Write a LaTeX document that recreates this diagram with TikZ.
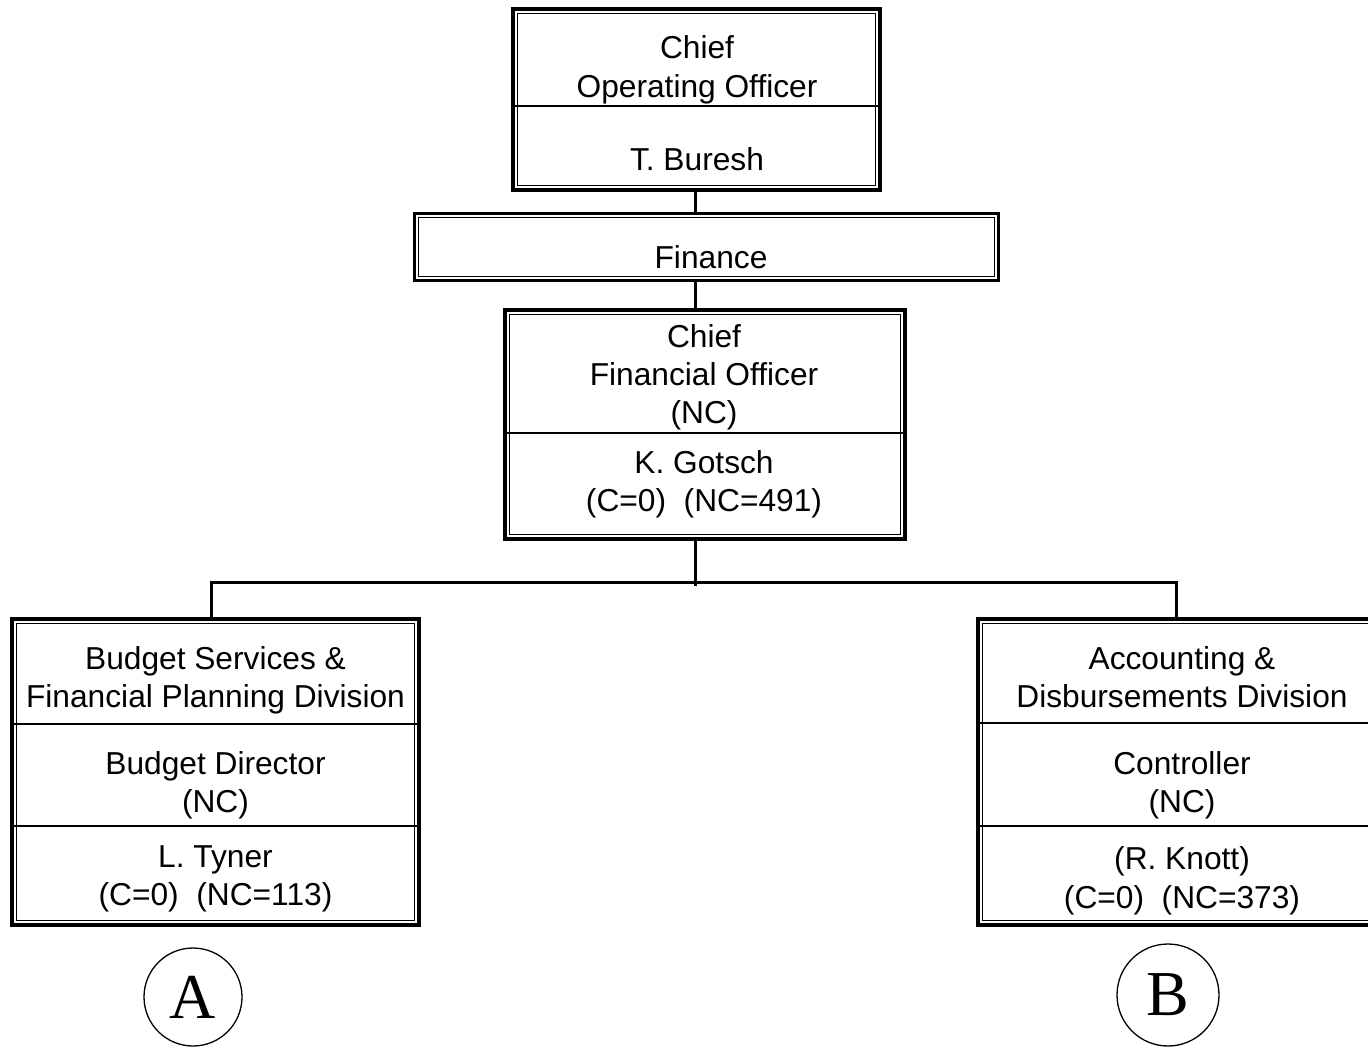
\documentclass[tikz,border=0pt]{standalone}
\usepackage{fontspec}
\setmainfont{Liberation Sans}
\newfontfamily\serifletter{Liberation Serif}
\begin{document}
\begin{tikzpicture}[x=1pt,y=-1pt,
  box/.style={draw,line width=4.5pt,inner sep=0pt,outer sep=0pt},
  finbox/.style={draw,line width=3pt,inner sep=0pt,outer sep=0pt},
  lbl/.style={anchor=base,inner sep=0pt,font=\fontsize{31.7}{38}\selectfont},
  conn/.style={line width=3pt},
  divider/.style={line width=1.8pt},
  innerline/.style={line width=1.2pt},
  letter/.style={circle,draw,line width=1.3pt,inner sep=0pt,font=\serifletter\fontsize{64}{64}\selectfont}]
\useasboundingbox (0,0) rectangle (1368,1047);

% boxes
\node[box,minimum width=367pt,minimum height=181pt] (coo) at (696.5,99.5) {};
\node[finbox,minimum width=584pt,minimum height=67pt] (fin) at (706.5,247) {};
\node[box,minimum width=400pt,minimum height=229pt] (cfo) at (705,424.5) {};
\node[box,minimum width=407pt,minimum height=306pt] (bud) at (215.5,772) {};
\node[box,minimum width=408pt,minimum height=306pt] (acc) at (1182,772) {};

% inner thin borders
\foreach \n in {coo,cfo,bud,acc}{
  \draw[innerline] ([shift={(4.8,4.8)}]\n.north west) rectangle ([shift={(-4.8,-4.8)}]\n.south east);
}
\draw[innerline] ([shift={(4,4)}]fin.north west) rectangle ([shift={(-4,-4)}]fin.south east);

% dividers
\draw[divider] (coo.west |- 0,106) -- (coo.east |- 0,106);
\draw[divider] (cfo.west |- 0,433) -- (cfo.east |- 0,433);
\draw[divider] (bud.west |- 0,724) -- (bud.east |- 0,724);
\draw[divider] (bud.west |- 0,826) -- (bud.east |- 0,826);
\draw[divider] (acc.west |- 0,723) -- (acc.east |- 0,723);
\draw[divider] (acc.west |- 0,826) -- (acc.east |- 0,826);

% connectors
\coordinate (trunk) at (695,0);
\coordinate (bus) at (695,582.5);
\coordinate (busend) at (695,586);
\coordinate (ltap) at (211,0);
\coordinate (rtap) at (1176,0);
\draw[conn] (coo.south -| trunk) -- (fin.north -| trunk);
\draw[conn] (fin.south -| trunk) -- (cfo.north -| trunk);
\draw[conn] (cfo.south -| trunk) -- (busend);
\draw[conn] (bud.north -| ltap) |- (bus) -| (acc.north -| rtap);

% texts
\node[lbl] (t1) at (697,58) {Chief};
\node[lbl] (t2) at (697,97) {Operating Officer};
\node[lbl] (t3) at (697,170) {T. Buresh};
\node[lbl] (t4) at (711,268) {Finance};
\node[lbl] (t5) at (704,347) {Chief};
\node[lbl] (t6) at (704,385) {Financial Officer};
\node[lbl] (t7) at (704,423) {(NC)};
\node[lbl] (t8) at (704,473) {K. Gotsch};
\node[lbl] (t9) at (704,511) {(C=0)\ \ (NC=491)};
\node[lbl] (l1) at (215.5,669) {Budget Services \&};
\node[lbl] (l2) at (215.5,707) {Financial Planning Division};
\node[lbl] (l3) at (215.5,774) {Budget Director};
\node[lbl] (l4) at (215.5,812) {(NC)};
\node[lbl] (l5) at (215.5,867) {L. Tyner};
\node[lbl] (l6) at (215.5,905) {(C=0)\ \ (NC=113)};
\node[lbl] (r1) at (1182,669) {Accounting \&};
\node[lbl] (r2) at (1182,707) {Disbursements Division};
\node[lbl] (r3) at (1182,774) {Controller};
\node[lbl] (r4) at (1182,812) {(NC)};
\node[lbl] (r5) at (1182,869) {(R. Knott)};
\node[lbl] (r6) at (1182,908) {(C=0)\ \ (NC=373)};

% circles
\node[letter,minimum size=98pt] (ca) at (193,997) {A};
\node[letter,minimum size=102pt] (cb) at (1168,995) {B};
\end{tikzpicture}
\end{document}
